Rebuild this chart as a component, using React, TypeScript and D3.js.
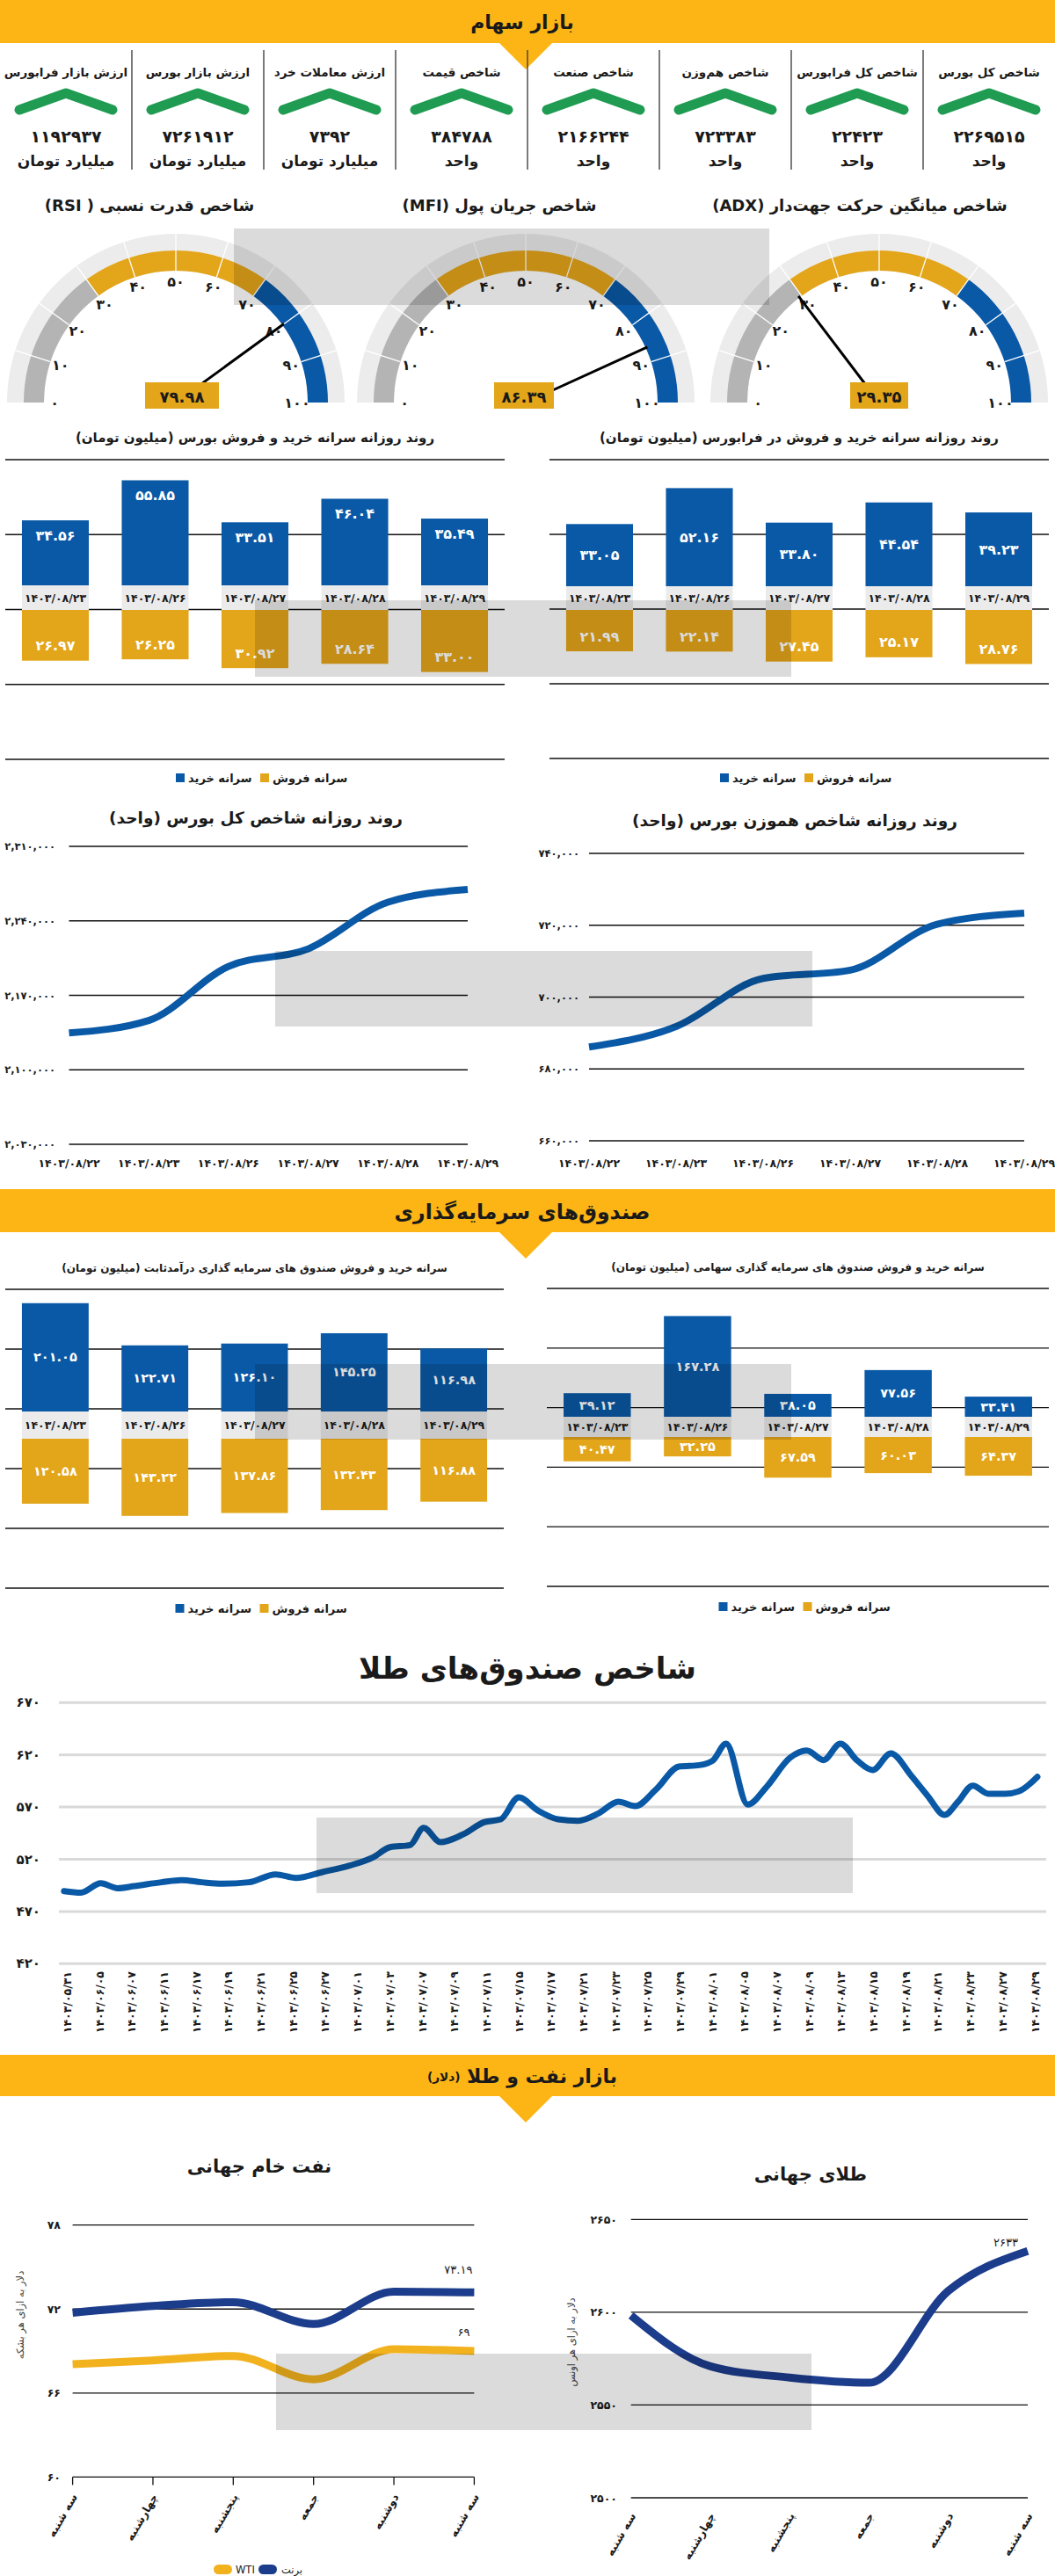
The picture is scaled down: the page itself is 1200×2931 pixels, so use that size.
import React from 'react';
import * as d3 from 'd3';

// ---------- helpers ----------
const FA = '۰۱۲۳۴۵۶۷۸۹';
const fa = (v: string | number) => String(v).replace(/[0-9]/g, (d) => FA[Number(d)]);
const faGroup = (n: number) => fa(d3.format(',')(n));

// ---------- data ----------
// KPI row (ordered right -> left)
const kpiTitles = ['شاخص کل بورس', 'شاخص کل فرابورس', 'شاخص هم‌وزن', 'شاخص صنعت', 'شاخص قیمت', 'ارزش معاملات خرد', 'ارزش بازار بورس', 'ارزش بازار فرابورس'];
const kpiValues = [2269515, 22423, 723383, 2166244, 384788, 7392, 7261912, 1192937];
const kpiUnits = ['واحد', 'واحد', 'واحد', 'واحد', 'واحد', 'میلیارد تومان', 'میلیارد تومان', 'میلیارد تومان'];

// gauges (left -> right)
const gaugeTitles = ['شاخص قدرت نسبی ( RSI)', 'شاخص جریان پول (MFI)', 'شاخص میانگین حرکت جهت‌دار (ADX)'];
const gaugeValues = [79.98, 86.39, 29.35];
const gaugeTicks = [0, 10, 20, 30, 40, 50, 60, 70, 80, 90, 100];
const gaugeZones = [0, 30, 70, 100];

// daily per-capita bars
const barDates = ['1403/08/23', '1403/08/26', '1403/08/27', '1403/08/28', '1403/08/29'];
const bourseBuy = [34.56, 55.85, 33.51, 46.04, 35.49];
const bourseSell = [26.97, 26.25, 30.92, 28.64, 33.0];
const faraBuy = [33.05, 52.16, 33.8, 44.54, 39.23];
const faraSell = [21.99, 22.14, 27.45, 25.17, 28.76];
const fixedBuy = [201.05, 122.71, 126.1, 145.25, 116.98];
const fixedSell = [120.58, 143.22, 137.86, 132.43, 116.88];
const equityBuy = [39.12, 167.28, 38.05, 77.56, 33.41];
const equitySell = [40.47, 32.25, 67.59, 60.03, 64.37];

// index lines
const idxDates = ['1403/08/22', '1403/08/23', '1403/08/26', '1403/08/27', '1403/08/28', '1403/08/29'];
const totalIndex = [2134600, 2146400, 2197200, 2213700, 2257600, 2269515];
const totalTicks = [2030000, 2100000, 2170000, 2240000, 2310000];
const ewIndex = [686100, 691800, 705200, 707500, 720300, 723383];
const ewTicks = [660000, 680000, 700000, 720000, 740000];

// gold funds index
const goldFundDates = ['1403/05/31', '1403/06/05', '1403/06/07', '1403/06/11', '1403/06/17', '1403/06/19', '1403/06/21', '1403/06/25', '1403/06/27', '1403/07/01', '1403/07/03', '1403/07/07', '1403/07/09', '1403/07/11', '1403/07/15', '1403/07/17', '1403/07/21', '1403/07/23', '1403/07/25', '1403/07/29', '1403/08/01', '1403/08/05', '1403/08/07', '1403/08/09', '1403/08/13', '1403/08/15', '1403/08/19', '1403/08/21', '1403/08/23', '1403/08/27', '1403/08/29'];
const goldFundPos = [-0.1, 0.42, 1.04, 1.56, 2.08, 2.92, 3.54, 4.17, 4.79, 5.63, 6.46, 7.09, 7.92, 8.76, 9.48, 10.01, 10.63, 11.05, 11.57, 12.3, 12.92, 13.44, 14.0, 14.59, 15.22, 15.84, 16.47, 17.09, 17.61, 18.24, 18.97, 19.6, 20.01, 20.43, 21.1, 21.68, 22.41, 22.93, 23.45, 23.97, 24.5, 24.97, 25.54, 26.16, 26.68, 27.2, 27.62, 28.08, 28.56, 29.08, 29.5, 30.08];
const goldFundVal = [489.5, 488, 497, 492.3, 494.3, 498, 500, 498, 496.6, 498, 505.5, 502.2, 507.8, 514, 521.8, 531.6, 533.6, 550, 536.4, 544.3, 555.5, 558.3, 579.3, 566.7, 558.3, 556.9, 563.9, 575.1, 570.9, 586.3, 608.8, 610.2, 614.4, 630.7, 572.3, 589.2, 617.2, 624.2, 615, 630.7, 614.4, 605.5, 621.4, 600.4, 580.7, 562.5, 575.1, 590.6, 582.7, 582.7, 585, 599];
const goldFundTicks = [420, 470, 520, 570, 620, 670];

// oil & world gold
const weekDays = ['سه شنبه', 'چهارشنبه', 'پنجشنبه', 'جمعه', 'دوشنبه', 'سه شنبه'];
const brent = [71.74, 72.22, 72.49, 70.93, 73.24, 73.19];
const wti = [68.06, 68.33, 68.65, 66.98, 69.13, 69];
const oilTicks = [60, 66, 72, 78];
const worldGold = [2598.3, 2570.9, 2564.8, 2562, 2611.5, 2633];
const worldGoldTicks = [2500, 2550, 2600, 2650];

// ---------- style ----------
const FONT = "'DejaVu Sans', sans-serif";
const BLUE = '#0a59a6';
const GOLD = '#e3a51a';
const HEAD = '#fcb515';
const NAVY = '#1c3c8c';
const GREEN = '#1f9b52';
const DARK = '#1a1a1a';
const GRAYZ = '#b4b4b4';

// ---------- components ----------
function Header({ y0, y1, title, size, sub }: any) {
  const c = 598;
  return (
    <g>
      <rect x={0} y={y0} width={1200} height={y1 - y0} fill={HEAD} />
      <polygon points={`${c - 30},${y1} ${c + 30},${y1} ${c},${y1 + 30}`} fill={HEAD} />
      <text x={c - 4} y={(y0 + y1) / 2 + 1} textAnchor="middle" dominantBaseline="central" direction="rtl" fontSize={size} fontWeight="bold" fill={DARK}>
        {title}
        {sub ? <tspan fontSize={size * 0.62}>{sub}</tspan> : null}
      </text>
    </g>
  );
}

function KPIs() {
  const x = d3.scaleBand<string>().domain(kpiTitles.map((_, i) => String(i))).range([1200, 0]);
  const bw = x.bandwidth();
  return (
    <g>
      {kpiTitles.map((t, i) => {
        const left = x(String(i))!;
        const cx = left + bw / 2;
        return (
          <g key={i}>
            {left > 1 ? <line x1={left} x2={left} y1={57} y2={193} stroke="#333" strokeWidth={1.3} /> : null}
            <text x={cx} y={82} textAnchor="middle" dominantBaseline="central" direction="rtl" fontSize={13.5} fontWeight="bold" fill={DARK}>{t}</text>
            <path d={`M${cx - 53},${125} L${cx},${106} L${cx + 53},${125}`} fill="none" stroke={GREEN} strokeWidth={11} strokeLinecap="round" strokeLinejoin="round" />
            <text x={cx} y={155} textAnchor="middle" dominantBaseline="central" fontSize={19} fontWeight="bold" fill={DARK}>{fa(kpiValues[i])}</text>
            <text x={cx} y={183} textAnchor="middle" dominantBaseline="central" direction="rtl" fontSize={17} fontWeight="bold" fill={DARK}>{kpiUnits[i]}</text>
          </g>
        );
      })}
    </g>
  );
}

const gaugeCx = [200, 598, 1000];
const gaugeBoxCx = [207, 596, 1000];
const gaugeBoxW = [84, 68, 66];
const gaugeTitleX = [170, 568, 978];

function Gauge({ i }: { i: number }) {
  const cx = gaugeCx[i];
  const cy = 458;
  const rIn = 150, rOut = 173, rBg = 192;
  const ang = d3.scaleLinear().domain([0, 100]).range([-Math.PI / 2, Math.PI / 2]);
  const arc = d3.arc<any>();
  const zoneColors = [GRAYZ, GOLD, BLUE];
  const v = gaugeValues[i];
  const a = ang(v);
  const rn = 152;
  return (
    <g>
      <text x={gaugeTitleX[i]} y={233} textAnchor="middle" dominantBaseline="central" direction="rtl" fontSize={18} fontWeight="bold" fill={DARK}>{gaugeTitles[i]}</text>
      <g transform={`translate(${cx},${cy})`}>
        <path d={arc({ innerRadius: rIn, outerRadius: rBg, startAngle: ang(0), endAngle: ang(100) })!} fill="#ececec" />
        {gaugeZones.slice(0, -1).map((z, k) => (
          <path key={k} d={arc({ innerRadius: rIn, outerRadius: rOut, startAngle: ang(z), endAngle: ang(gaugeZones[k + 1]) })!} fill={zoneColors[k]} />
        ))}
        {gaugeTicks.slice(1, -1).map((t) => {
          const aa = ang(t);
          return <line key={t} x1={rIn * Math.sin(aa)} y1={-rIn * Math.cos(aa)} x2={rBg * Math.sin(aa)} y2={-rBg * Math.cos(aa)} stroke="#fff" strokeWidth={1.3} />;
        })}
        {gaugeTicks.map((t) => {
          const aa = ang(t);
          const rl = 138;
          return <text key={t} x={rl * Math.sin(aa)} y={-rl * Math.cos(aa)} textAnchor="middle" dominantBaseline="central" fontSize={16} fontWeight="bold" fill={DARK}>{fa(t)}</text>;
        })}
        <line x1={0} y1={0} x2={rn * Math.sin(a)} y2={-rn * Math.cos(a)} stroke="#000" strokeWidth={3} />
      </g>
      <rect x={gaugeBoxCx[i] - gaugeBoxW[i] / 2} y={435} width={gaugeBoxW[i]} height={30} fill={GOLD} />
      <text x={gaugeBoxCx[i]} y={451} textAnchor="middle" dominantBaseline="central" fontSize={18} fontWeight="bold" fill={DARK}>{fa(v.toFixed(2))}</text>
    </g>
  );
}

function Legend({ cx, y, a, b, ca, cb }: any) {
  return (
    <g fontSize={13} fontWeight="bold" fill={DARK}>
      <rect x={cx - 90} y={y - 5} width={10} height={10} fill={ca} />
      <text x={cx - 76} y={y} dominantBaseline="central">{a}</text>
      <rect x={cx + 6} y={y - 5} width={10} height={10} fill={cb} />
      <text x={cx + 20} y={y} dominantBaseline="central">{b}</text>
    </g>
  );
}

function BarPanel(p: any) {
  const { x0, x1, title, titleY, titleSize, buy, sell, gridTop, gridStep, gridN, baseY, sellTop, k, buyMode, sellMode, legendY, valueSize } = p;
  const x = d3.scaleBand<string>().domain(barDates).range([x0, x1]).paddingInner(0.33).paddingOuter(0.167);
  const yb = d3.scaleLinear().domain([0, 100]).range([baseY, baseY - 100 * k]);
  const ys = d3.scaleLinear().domain([0, 100]).range([sellTop, sellTop + 100 * k]);
  const cx = (x0 + x1) / 2;
  const grid = d3.range(gridN).map((i) => gridTop + i * gridStep);
  const bw = x.bandwidth();
  return (
    <g>
      <text x={cx} y={titleY} textAnchor="middle" dominantBaseline="central" direction="rtl" fontSize={titleSize} fontWeight="bold" fill={DARK}>{title}</text>
      {grid.map((g, i) => <line key={i} x1={x0} x2={x1} y1={g} y2={g} stroke="#111" strokeWidth={1.3} />)}
      {barDates.map((d, i) => {
        const bx = x(d)!;
        const top = yb(buy[i]);
        const bot = ys(sell[i]);
        const by = buyMode === 'top' ? top + 17 : (top + baseY) / 2;
        const sy = sellMode === 'bottom' ? bot - 17 : (sellTop + bot) / 2;
        return (
          <g key={d}>
            <rect x={bx} y={top} width={bw} height={baseY - top} fill={BLUE} />
            <rect x={bx} y={baseY} width={bw} height={sellTop - baseY} fill="#ebebeb" />
            <rect x={bx} y={sellTop} width={bw} height={bot - sellTop} fill={GOLD} />
            <text x={bx + bw / 2} y={by} textAnchor="middle" dominantBaseline="central" fontSize={valueSize} fontWeight="bold" fill="#fff">{fa(buy[i].toFixed(2))}</text>
            <text x={bx + bw / 2} y={(baseY + sellTop) / 2} textAnchor="middle" dominantBaseline="central" fontSize={12.5} fontWeight="bold" fill={DARK}>{fa(d)}</text>
            <text x={bx + bw / 2} y={sy} textAnchor="middle" dominantBaseline="central" fontSize={valueSize} fontWeight="bold" fill="#fff">{fa(sell[i].toFixed(2))}</text>
          </g>
        );
      })}
      <Legend cx={cx} y={legendY} a="سرانه خرید" b="سرانه فروش" ca={BLUE} cb={GOLD} />
    </g>
  );
}

function IndexPanel(p: any) {
  const { x0, x1, yTop, yBot, ticks, values, title, titleX, titleY, labelX } = p;
  const x = d3.scalePoint<string>().domain(idxDates).range([x0, x1]);
  const y = d3.scaleLinear().domain([ticks[0], ticks[ticks.length - 1]]).range([yBot, yTop]);
  const line = d3.line<number>().x((_, i) => x(idxDates[i])!).y((v) => y(v)).curve(d3.curveMonotoneX);
  return (
    <g>
      <text x={titleX} y={titleY} textAnchor="middle" dominantBaseline="central" direction="rtl" fontSize={18.5} fontWeight="bold" fill={DARK}>{title}</text>
      {ticks.map((t: number) => (
        <g key={t}>
          <line x1={x0} x2={x1} y1={y(t)} y2={y(t)} stroke="#111" strokeWidth={1.3} />
          <text x={labelX} y={y(t)} textAnchor="end" dominantBaseline="central" fontSize={11.5} fontWeight="bold" fill={DARK}>{faGroup(t)}</text>
        </g>
      ))}
      <path d={line(values)!} fill="none" stroke={BLUE} strokeWidth={8} strokeLinecap="butt" />
      {idxDates.map((d) => (
        <text key={d} x={x(d)} y={1323} textAnchor="middle" dominantBaseline="central" fontSize={12.5} fontWeight="bold" fill={DARK}>{fa(d)}</text>
      ))}
    </g>
  );
}

function GoldFunds() {
  const x = d3.scaleLinear().domain([0, goldFundDates.length - 1]).range([76.5, 1177]);
  const y = d3.scaleLinear().domain([420, 670]).range([2234.3, 1937.3]);
  const line = d3.line<number>().x((_, i) => x(goldFundPos[i])).y((v) => y(v)).curve(d3.curveMonotoneX);
  return (
    <g>
      <text x={600} y={1898} textAnchor="middle" dominantBaseline="central" direction="rtl" fontSize={34} fontWeight="bold" fill={DARK}>شاخص صندوق‌های طلا</text>
      {goldFundTicks.map((t) => (
        <g key={t}>
          <line x1={67} x2={1190} y1={y(t)} y2={y(t)} stroke="#d9d9d9" strokeWidth={3} />
          <text x={46} y={y(t)} textAnchor="end" dominantBaseline="central" fontSize={15} fontWeight="bold" fill={DARK}>{fa(t)}</text>
        </g>
      ))}
      <path d={line(goldFundVal)!} fill="none" stroke={BLUE} strokeWidth={7} strokeLinejoin="round" strokeLinecap="round" />
      {goldFundDates.map((d, i) => (
        <text key={d} transform={`translate(${x(i)},${2243}) rotate(-90)`} textAnchor="end" dominantBaseline="central" fontSize={12.5} fontWeight="bold" fill={DARK}>{fa(d)}</text>
      ))}
    </g>
  );
}

function OilChart() {
  const x = d3.scaleLinear().domain([0, weekDays.length - 1]).range([82.6, 539.4]);
  const y = d3.scaleLinear().domain([60, 78]).range([2818.4, 2531.7]);
  const line = d3.line<number>().x((_, i) => x(i)).y((v) => y(v)).curve(d3.curveMonotoneX);
  const n = weekDays.length - 1;
  return (
    <g>
      <text x={295} y={2465} textAnchor="middle" dominantBaseline="central" direction="rtl" fontSize={21} fontWeight="bold" fill={DARK}>نفت خام جهانی</text>
      <text transform={`translate(23,2634) rotate(-90)`} textAnchor="middle" dominantBaseline="central" direction="rtl" fontSize={11.5} fill="#444">دلار به ازای هر بشکه</text>
      {oilTicks.map((t) => (
        <g key={t}>
          <line x1={82.6} x2={539.4} y1={y(t)} y2={y(t)} stroke="#111" strokeWidth={1.3} />
          <text x={69} y={y(t)} textAnchor="end" dominantBaseline="central" fontSize={12.5} fontWeight="bold" fill={DARK}>{fa(t)}</text>
        </g>
      ))}
      {weekDays.map((d, i) => (
        <g key={i}>
          <line x1={x(i)} x2={x(i)} y1={y(60)} y2={y(60) + 9} stroke="#111" strokeWidth={1.3} />
          <text transform={`translate(${x(i) + 2},${y(60) + 20}) rotate(-60)`} textAnchor="end" dominantBaseline="central" fontSize={12.5} fontWeight="bold" fill={DARK}>{d}</text>
        </g>
      ))}
      <path d={line(brent)!} fill="none" stroke={NAVY} strokeWidth={9} />
      <path d={line(wti)!} fill="none" stroke="#f2b21e" strokeWidth={9} />
      <text x={x(n) - 18} y={y(brent[n]) - 26} textAnchor="middle" dominantBaseline="central" fontSize={13} fill={DARK}>{fa(brent[n].toFixed(2))}</text>
      <text x={x(n) - 12} y={y(wti[n]) - 22} textAnchor="middle" dominantBaseline="central" fontSize={13} fill={DARK}>{fa(wti[n])}</text>
      <g fontSize={11.5} fill={DARK}>
        <rect x={243} y={2918} width={21} height={11} rx={5.5} fill="#f2b21e" />
        <text x={268} y={2924} dominantBaseline="central">WTI</text>
        <rect x={294} y={2918} width={21} height={11} rx={5.5} fill={NAVY} />
        <text x={320} y={2924} dominantBaseline="central">برنت</text>
      </g>
    </g>
  );
}

function WorldGold() {
  const x = d3.scaleLinear().domain([0, weekDays.length - 1]).range([717.7, 1169]);
  const y = d3.scaleLinear().domain([2500, 2650]).range([2842, 2525.3]);
  const line = d3.line<number>().x((_, i) => x(i)).y((v) => y(v)).curve(d3.curveMonotoneX);
  const n = worldGold.length - 1;
  return (
    <g>
      <text x={922} y={2474} textAnchor="middle" dominantBaseline="central" direction="rtl" fontSize={21} fontWeight="bold" fill={DARK}>طلای جهانی</text>
      <text transform={`translate(650,2665) rotate(-90)`} textAnchor="middle" dominantBaseline="central" direction="rtl" fontSize={11.5} fill="#444">دلار به ازای هر اونس</text>
      {worldGoldTicks.map((t) => (
        <g key={t}>
          <line x1={717.7} x2={1169} y1={y(t)} y2={y(t)} stroke="#111" strokeWidth={1.3} />
          <text x={702} y={y(t)} textAnchor="end" dominantBaseline="central" fontSize={12.5} fontWeight="bold" fill={DARK}>{fa(t)}</text>
        </g>
      ))}
      {weekDays.map((d, i) => (
        <text key={i} transform={`translate(${x(i) + 2},${y(2500) + 18}) rotate(-60)`} textAnchor="end" dominantBaseline="central" fontSize={12.5} fontWeight="bold" fill={DARK}>{d}</text>
      ))}
      <path d={line(worldGold)!} fill="none" stroke={NAVY} strokeWidth={9} />
      <text x={x(n) - 25} y={y(worldGold[n]) - 10} textAnchor="middle" dominantBaseline="central" fontSize={13} fill={DARK}>{fa(Math.round(worldGold[n]))}</text>
    </g>
  );
}

const watermarkBoxes = [
  [266, 260, 875, 347],
  [290, 683, 900, 770],
  [313, 1082, 924, 1168],
  [290, 1552, 900, 1638],
  [360, 2068, 970, 2154],
  [314, 2678, 923, 2765],
];

export default function App() {
  return (
    <div style={{ position: 'absolute', left: 0, top: 0 }}>
      <svg width={1200} height={2931} viewBox="0 0 1200 2931" style={{ display: 'block', background: '#fff' }} fontFamily={FONT}>
        <rect x={0} y={0} width={1200} height={2931} fill="#fff" />
        <Header y0={0} y1={49} title="بازار سهام" size={22} />
        <KPIs />
        {gaugeValues.map((_, i) => <Gauge key={i} i={i} />)}

        <BarPanel x0={6} x1={574} title="روند روزانه سرانه خرید و فروش بورس (میلیون تومان)" titleY={498} titleSize={15}
          buy={bourseBuy} sell={bourseSell} gridTop={523} gridStep={85.25} gridN={5} baseY={666} sellTop={694} k={2.14}
          buyMode="top" sellMode="bottom" legendY={885} valueSize={16} />
        <BarPanel x0={625} x1={1193} title="روند روزانه سرانه خرید و فروش در فرابورس (میلیون تومان)" titleY={498} titleSize={15}
          buy={faraBuy} sell={faraSell} gridTop={523} gridStep={85} gridN={5} baseY={667} sellTop={694} k={2.14}
          buyMode="center" sellMode="bottom" legendY={885} valueSize={16} />

        <IndexPanel x0={78.5} x1={532} yTop={963} yBot={1302} ticks={totalTicks} values={totalIndex}
          title="روند روزانه شاخص کل بورس (واحد)" titleX={291} titleY={930} labelX={63} />
        <IndexPanel x0={670} x1={1165} yTop={971} yBot={1298} ticks={ewTicks} values={ewIndex}
          title="روند روزانه شاخص هموزن بورس (واحد)" titleX={904} titleY={933} labelX={659} />

        <Header y0={1353} y1={1402} title="صندوق‌های سرمایه‌گذاری" size={23.5} />

        <BarPanel x0={6} x1={573} title="سرانه خرید و فروش صندوق های سرمایه گذاری درآمدثابت (میلیون تومان)" titleY={1443} titleSize={12}
          buy={fixedBuy} sell={fixedSell} gridTop={1467} gridStep={68} gridN={6} baseY={1606} sellTop={1637} k={0.613}
          buyMode="center" sellMode="center" legendY={1830} valueSize={14.5} />
        <BarPanel x0={622} x1={1193} title="سرانه خرید و فروش صندوق های سرمایه گذاری سهامی (میلیون تومان)" titleY={1442} titleSize={12}
          buy={equityBuy} sell={equitySell} gridTop={1466} gridStep={67.8} gridN={6} baseY={1612} sellTop={1635} k={0.685}
          buyMode="center" sellMode="center" legendY={1828} valueSize={14.5} />

        <GoldFunds />

        <Header y0={2338} y1={2385} title="بازار نفت و طلا " sub="(دلار)" size={22} />
        <OilChart />
        <WorldGold />

        {watermarkBoxes.map((b, i) => (
          <rect key={i} x={b[0]} y={b[1]} width={b[2] - b[0]} height={b[3] - b[1]} fill="#000" opacity={0.14} />
        ))}
      </svg>
    </div>
  );
}
